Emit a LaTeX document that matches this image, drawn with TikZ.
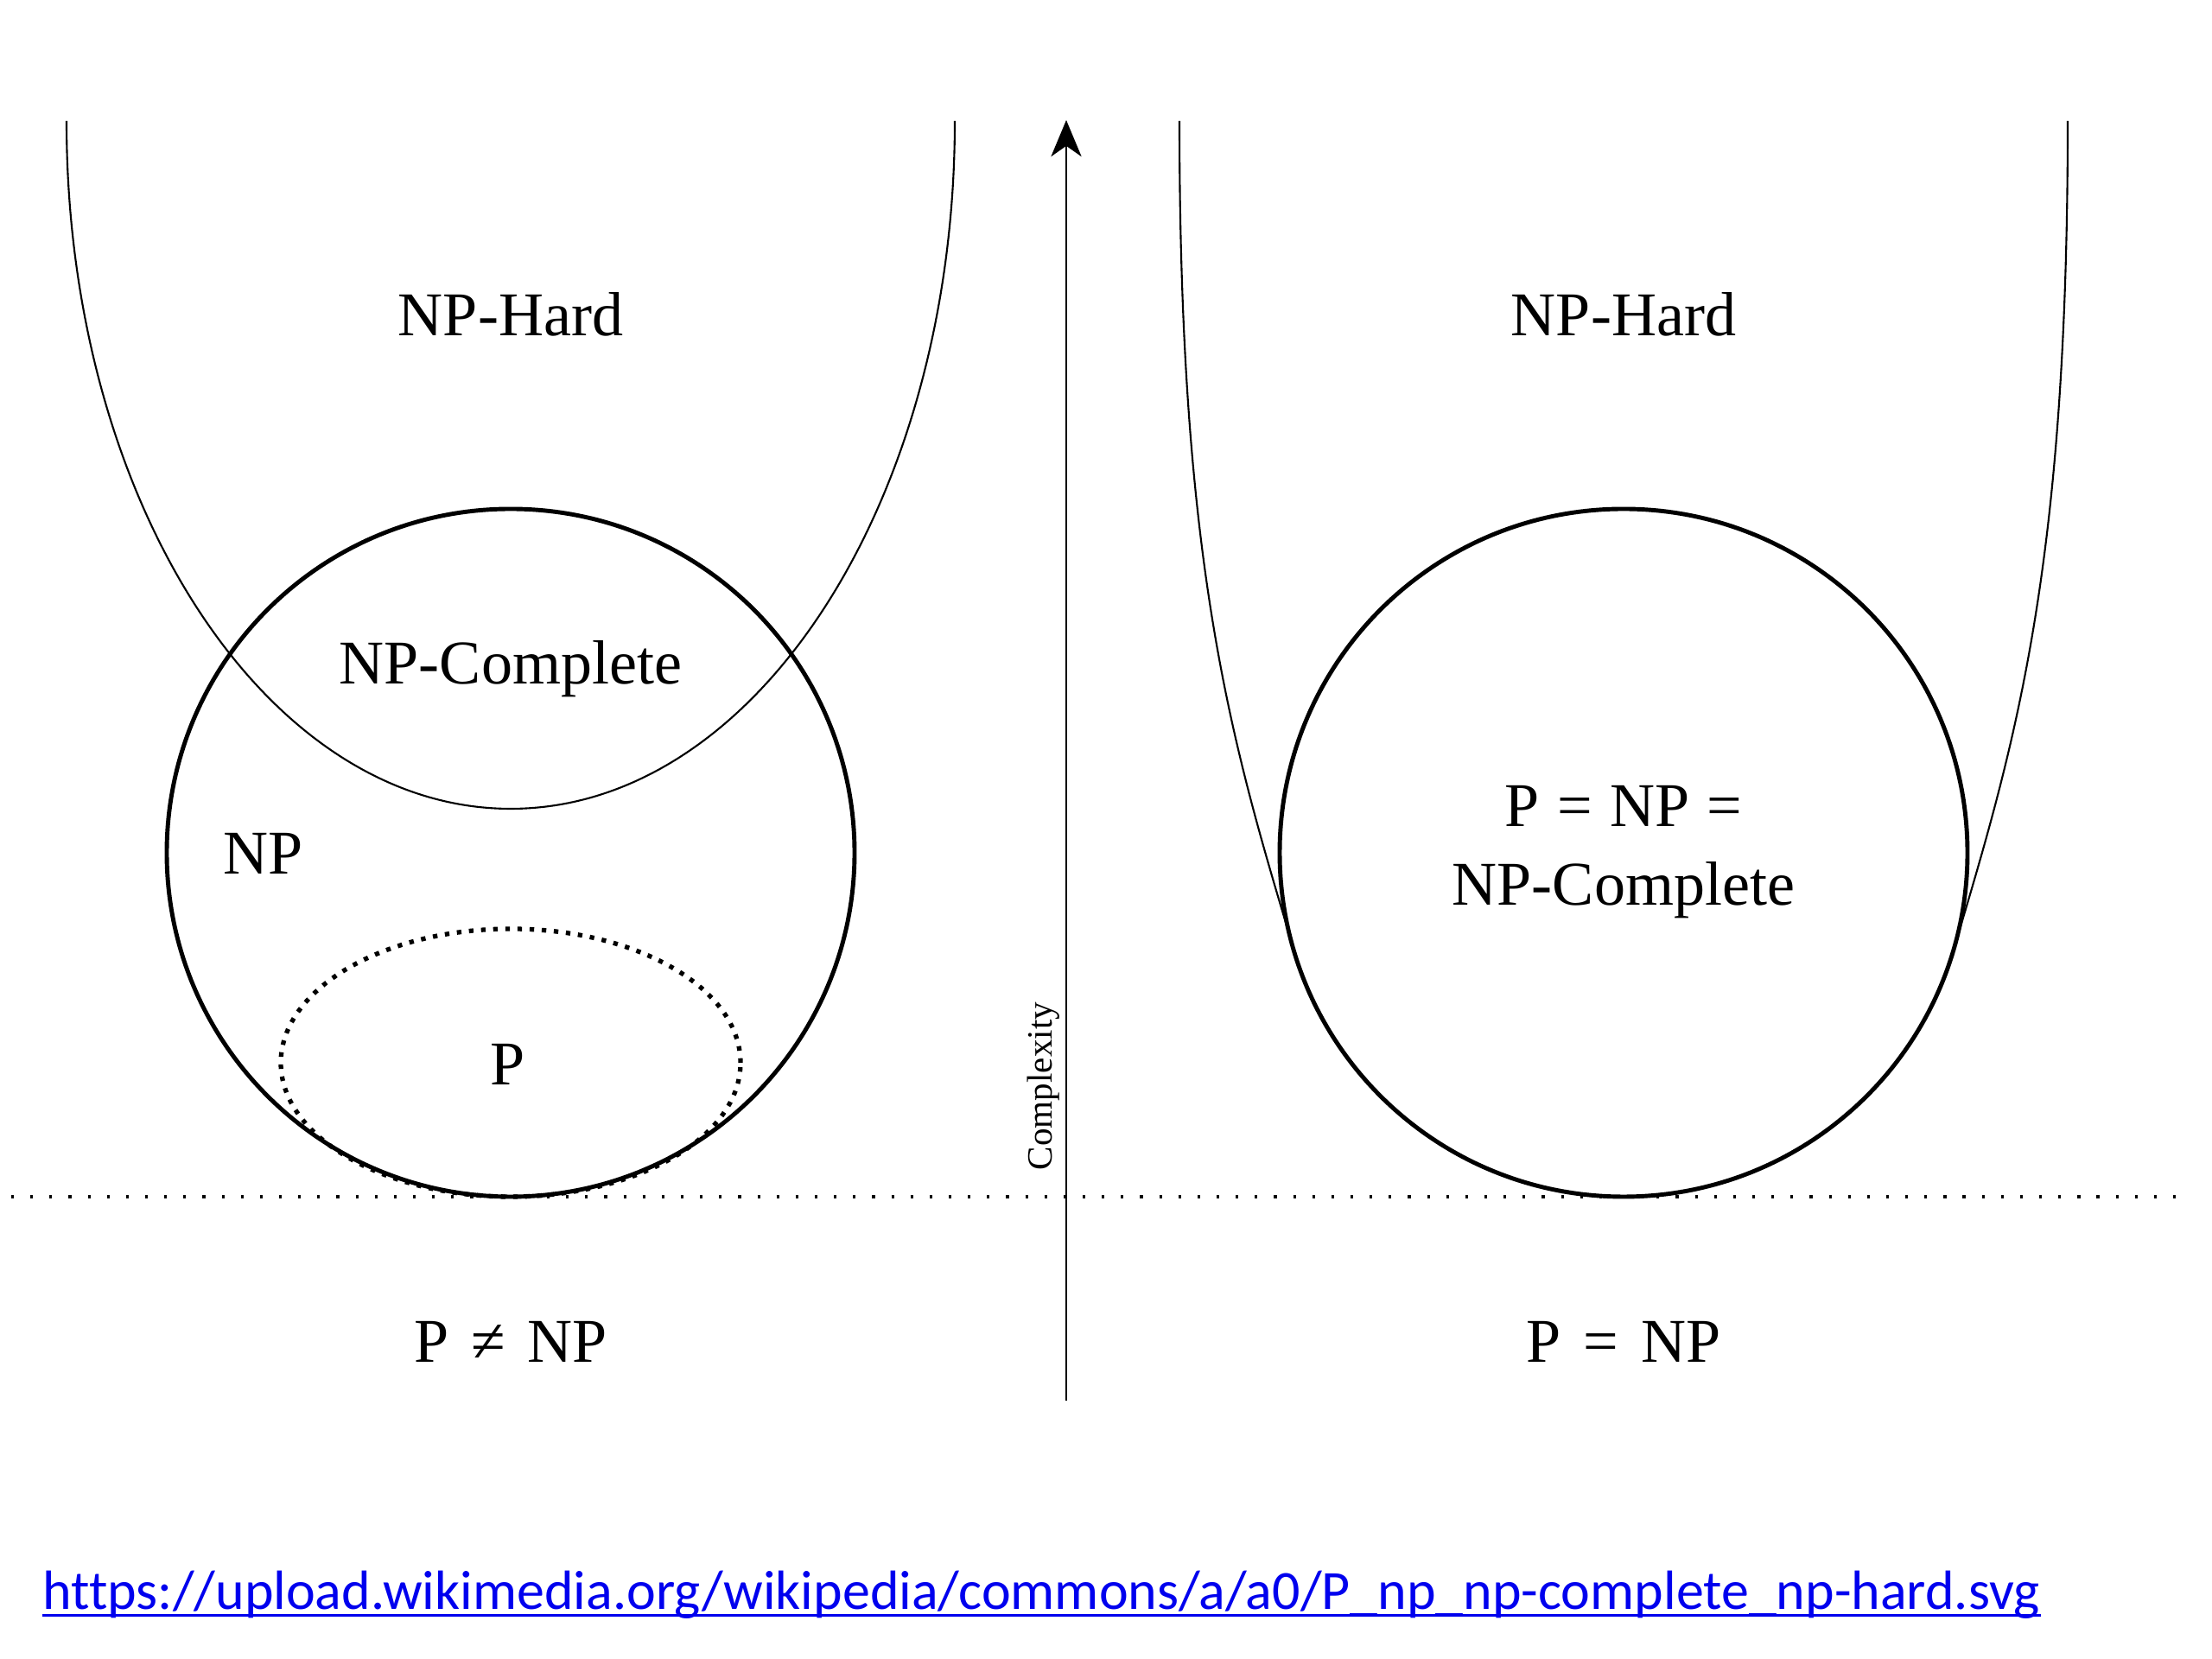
\documentclass[tikz,border=0pt]{standalone}
\usepackage{fontspec}
\setmainfont{Liberation Serif}
\newfontfamily\duongdan[Ligatures=NoCommon]{Carlito}
\usetikzlibrary{arrows.meta}
\definecolor{lienket}{RGB}{0,0,238}
\begin{document}
\begin{tikzpicture}[declare function={bk=3.98;},>={Stealth[length=12pt,width=10pt,inset=3.5pt]},font=\fontsize{20.5}{24}\selectfont]
				\tikzset{tap/.style={anchor=base,inner sep=0pt},
					vien/.style={line width=1.4pt},
					bien/.style={line width=0.6pt}}
				\useasboundingbox (0,0) rectangle (25.6,19.2);
				
				% Các điểm mốc
				\coordinate (O1) at (5.91,9.33);
				\coordinate (O2) at (18.79,9.33);
				\coordinate (truc0) at (12.34,2.99);
				\coordinate (truc1) at (12.34,17.81);
				\coordinate (day0) at (0.13,5.35);
				\coordinate (day1) at (25.22,5.35);
				
				% Đường chấm ngang và trục độ phức tạp
				\draw[line width=0.9pt,dash pattern=on 0.9pt off 5.4pt] (day0) -- (day1);
				\draw[->,line width=0.8pt] (truc0) -- (truc1);
				
				% Miền NP-Hard (bên trái: nửa elip, bên phải: ôm sát NP)
				\draw[bien] (0.77,17.80) arc[start angle=180,end angle=360,x radius=5.14,y radius=7.96];
				\draw[bien] (13.65,17.80) .. controls (13.65,12.6) and (14.26,10.585) .. (14.98,8.19)
					arc[start angle=196.7,end angle=343.3,radius=bk]
					.. controls (23.32,10.585) and (23.93,12.6) .. (23.93,17.80);
				
				% Lớp NP và P
				\draw[vien] (O1) circle[radius=bk];
				\draw[vien] (O2) circle[radius=bk];
				\draw[line width=1.5pt,dash pattern=on 1.5pt off 2.5pt] (5.91,6.90) ellipse[x radius=2.66,y radius=1.55];
				
				% Nhãn
				\path (5.91,15.31) node[tap] (hard1) {NP-Hard}
				(5.91,11.28) node[tap] (comp1) {NP-Complete}
				(3.05,9.08) node[tap] (np) {NP}
				(5.88,6.64) node[tap] (p) {P}
				(5.91,3.43) node[tap] (kq1) {P\hspace{7.4pt}≠\hspace{7.4pt}NP}
				(18.79,15.31) node[tap] (hard2) {NP-Hard}
				(18.79,9.63) node[tap] (bang) {P\hspace{5.8pt}=\hspace{5.8pt}NP\hspace{5.8pt}=}
				(18.79,8.72) node[tap] (comp2) {NP-Complete}
				(18.79,3.43) node[tap] (kq2) {P\hspace{7.4pt}=\hspace{7.4pt}NP};
				\node[rotate=90,anchor=south,inner sep=0pt,font=\fontsize{11.7}{14}\selectfont] (dpt) at (12.27,6.63) {Complexity};
				
				% Nguồn
				\node[anchor=base west,inner sep=0pt,text=lienket,font=\duongdan\fontsize{18.2}{22}\selectfont] (url) at (0.49,0.57) {https://upload.wikimedia.org/wikipedia/commons/a/a0/P\_np\_np-complete\_np-hard.svg};
				\draw[lienket,line width=0.9pt] ([yshift=-1.9pt]url.base west) -- ([yshift=-1.9pt]url.base east);
			\end{tikzpicture}
\end{document}
